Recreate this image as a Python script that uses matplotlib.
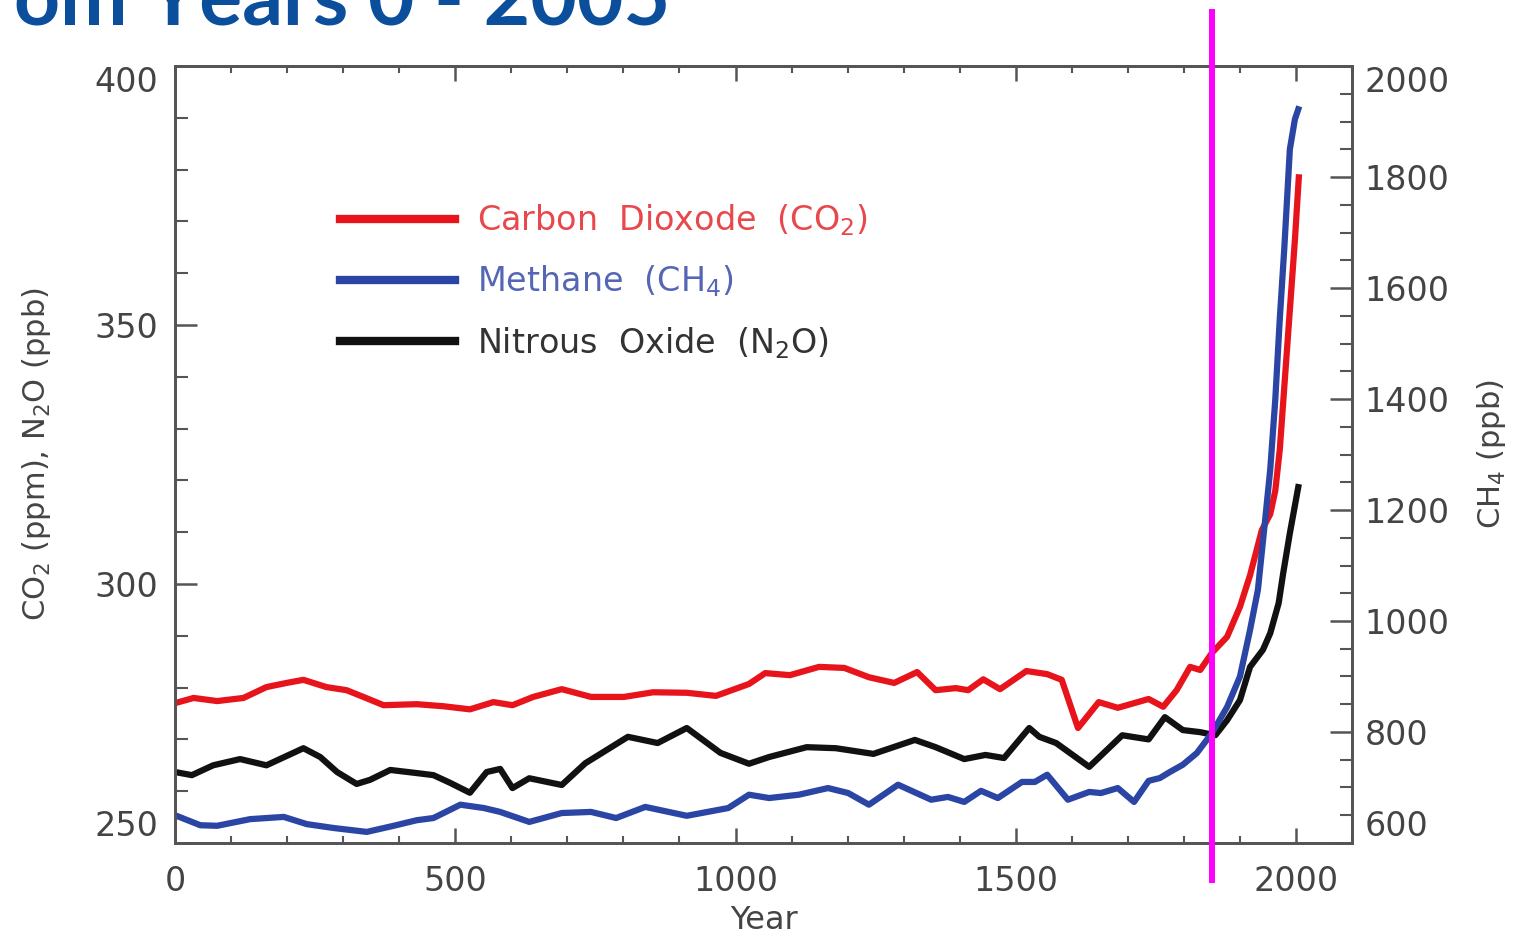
import matplotlib
matplotlib.use('Agg')
import matplotlib.pyplot as plt
from matplotlib.ticker import MultipleLocator

# values
co2_year = [0, 33, 75, 122, 163, 199, 229, 270, 306, 336, 372, 431, 479, 526, 568,
            602, 639, 690, 742, 801, 853, 913, 965, 1024, 1053, 1097, 1149, 1194,
            1238, 1283, 1324, 1357, 1393, 1415, 1442, 1472, 1519, 1556, 1582, 1611,
            1648, 1682, 1737, 1763, 1787, 1811, 1829, 1850, 1877, 1900, 1918, 1939,
            1954, 1963, 1971, 1980, 1989, 1998, 2005]
co2_ppm = [277.0, 278.0, 277.4, 278.0, 280.1, 280.9, 281.5, 280.1, 279.5, 278.2,
           276.6, 276.8, 276.4, 275.8, 277.2, 276.6, 278.2, 279.7, 278.2, 278.2,
           279.1, 279.0, 278.4, 280.7, 282.8, 282.4, 284.0, 283.8, 282.0, 280.9,
           283.0, 279.5, 279.9, 279.5, 281.6, 279.7, 283.2, 282.6, 281.5, 272.2,
           277.2, 276.1, 277.8, 276.3, 279.5, 284.0, 283.4, 286.7, 289.8, 295.6,
           301.7, 310.4, 313.5, 318.0, 325.9, 339.4, 352.9, 366.4, 378.5]

ch4_year = [0, 45, 75, 134, 194, 235, 283, 342, 390, 431, 461, 509, 551, 580, 632,
            690, 742, 787, 839, 913, 987, 1024, 1060, 1113, 1165, 1201, 1238, 1290,
            1349, 1379, 1408, 1438, 1468, 1511, 1534, 1556, 1593, 1631, 1652, 1682,
            1711, 1737, 1757, 1775, 1798, 1823, 1850, 1877, 1900, 1918, 1932, 1945,
            1954, 1963, 1971, 1979, 1984, 1989, 1998, 2004]
ch4_ppb = [650, 632, 631, 643, 647, 634, 627, 620, 631, 641, 645, 669, 663, 656, 638,
           654, 656, 645, 665, 649, 663, 687, 681, 687, 699, 690, 669, 705, 678, 683,
           674, 694, 681, 710, 710, 723, 678, 692, 690, 699, 674, 712, 717, 728, 741,
           762, 798, 845, 900, 984, 1056, 1183, 1273, 1399, 1544, 1670, 1760, 1850,
           1904, 1922]

n2o_year = [0, 30, 68, 116, 163, 199, 229, 259, 289, 324, 348, 384, 431, 461, 491,
            526, 556, 580, 602, 632, 690, 732, 808, 861, 913, 973, 1024, 1060, 1127,
            1179, 1246, 1320, 1357, 1408, 1446, 1479, 1524, 1542, 1572, 1631, 1690,
            1737, 1766, 1798, 1829, 1856, 1877, 1900, 1918, 1941, 1954, 1969, 1977,
            1989, 2004]
n2o_ppb = [263.7, 263.1, 265.0, 266.2, 265.0, 266.8, 268.3, 266.6, 263.7, 261.4,
           262.2, 264.1, 263.5, 263.1, 261.6, 259.7, 263.7, 264.3, 260.6, 262.5,
           261.2, 265.4, 270.5, 269.3, 272.2, 267.4, 265.3, 266.6, 268.5, 268.3,
           267.2, 269.9, 268.5, 266.2, 267.0, 266.4, 272.2, 270.5, 269.3, 264.7,
           270.8, 270.0, 274.3, 271.8, 271.4, 270.8, 273.7, 277.6, 284.0, 287.3,
           290.5, 296.3, 302.0, 309.8, 318.7]

marker_year = 1850

gray = '#555555'
txt = '#444444'

fig = plt.figure(figsize=(15.25, 9.35), dpi=100)
ax = fig.add_axes([0.1148, 0.0984, 0.7718, 0.8310])
ax2 = ax.twinx()

for a in (ax, ax2):
    for s in a.spines.values():
        s.set_color(gray)
        s.set_linewidth(2)

l1, = ax.plot(co2_year, co2_ppm, color='#e8141c', lw=4.5,
              solid_joinstyle='round', label='Carbon  Dioxode  (CO$_2$)')
l3, = ax.plot(n2o_year, n2o_ppb, color='#111111', lw=4.5,
              solid_joinstyle='round', label='Nitrous  Oxide  (N$_2$O)')
l2, = ax2.plot(ch4_year, ch4_ppb, color='#2b45a5', lw=4.5,
               solid_joinstyle='round', label='Methane  (CH$_4$)')

ax.set_xlim(0, 2100)
ax.set_ylim(250, 400)
ax2.set_ylim(600, 2000)

ax.set_xticks([0, 500, 1000, 1500, 2000])
ax.xaxis.set_minor_locator(MultipleLocator(100))
ax.set_yticks([250, 300, 350, 400])
ax.yaxis.set_minor_locator(MultipleLocator(10))
ax2.set_yticks(list(range(600, 2001, 200)))
ax2.yaxis.set_minor_locator(MultipleLocator(50))

ax.tick_params(axis='x', which='major', direction='in', length=11, width=1.8,
               top=True, color=gray, labelcolor=txt, labelsize=24, pad=16)
ax.tick_params(axis='x', which='minor', direction='in', length=5, width=1.5,
               top=True, color=gray)
ax.tick_params(axis='y', which='major', direction='in', length=16, width=1.8,
               color=gray, labelcolor=txt, labelsize=24, pad=12)
ax.tick_params(axis='y', which='minor', direction='in', length=9, width=1.5,
               color=gray)
ax2.tick_params(axis='y', which='major', direction='in', length=16, width=1.8,
                color=gray, labelcolor=txt, labelsize=24, pad=9)
ax2.tick_params(axis='y', which='minor', direction='in', length=9, width=1.5,
                color=gray)

# end labels sit inside the axis range, as in the reference
for a in (ax, ax2):
    labs = a.get_yticklabels()
    labs[0].set_va('bottom')
    labs[-1].set_va('top')

ax.set_xlabel('Year', fontsize=23, color=txt, labelpad=5)
ax.set_ylabel('CO$_2$ (ppm), N$_2$O (ppb)', fontsize=22, color=txt, labelpad=30)
ax2.set_ylabel('CH$_4$ (ppb)', fontsize=22, color=txt, labelpad=18)

leg = ax2.legend(handles=[l1, l2, l3], loc='upper left',
                 bbox_to_anchor=(0.140, 0.824), frameon=False, fontsize=24,
                 handlelength=3.45, handletextpad=0.66, labelspacing=0.76,
                 borderpad=0, borderaxespad=0,
                 labelcolor=['#e8474c', '#5566b5', '#333333'])
for h in leg.legend_handles:
    h.set_linewidth(6)

ax2.axvline(marker_year, ymin=-0.0476, ymax=1.0695, color='#ff00ff', lw=4.3,
            clip_on=False, zorder=10)

fig.text(670 / 1525, 1 - 26 / 935, 'from Years 0 - 2005', ha='right',
         va='baseline', fontsize=58, fontweight='bold', family='Lato',
         color='#0b4f9c')

fig.savefig('out.png', dpi=100)
